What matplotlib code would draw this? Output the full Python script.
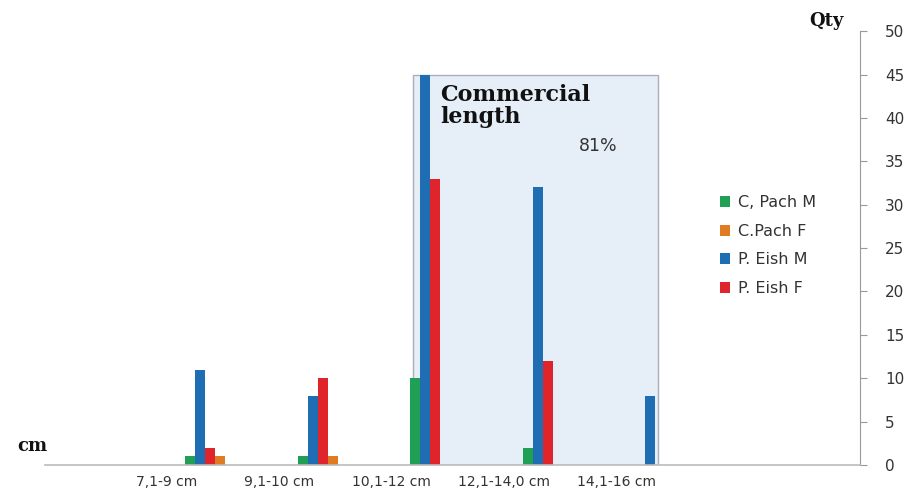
import matplotlib
matplotlib.use("Agg")
import matplotlib.pyplot as plt
from matplotlib.patches import Rectangle
import numpy as np

categories = ["7,1-9 cm", "9,1-10 cm", "10,1-12 cm", "12,1-14,0 cm", "14,1-16 cm"]
c_pach_m = [1, 1, 10, 2, 0]
c_pach_f = [1, 1, 0, 0, 0]
p_eish_m = [11, 8, 45, 32, 8]
p_eish_f = [2, 10, 33, 12, 0]
y_ticks = list(range(0, 51, 5))

green = "#1fa055"
orange = "#e07b22"
blue = "#1f6db3"
red = "#e0242b"

fig = plt.figure(figsize=(9.13, 4.93), dpi=100)
ax = fig.add_axes([0.049, 0.0568, 0.893, 0.880])

x = np.arange(len(categories))
w = 0.089
shift = 0.34

# commercial-length zone behind the bars
box_left = x[2] + shift - 2 * w + 0.025
box_right = x[4] + shift + 0.25 * w
ax.add_patch(Rectangle((box_left, 0), box_right - box_left, 45,
                       facecolor="#e6eef7", edgecolor="#a9b0b8", lw=1.0, zorder=0))

# draw series in on-screen order: green, blue, red, orange
series = [(c_pach_m, green, -1.5, "C, Pach M"),
          (p_eish_m, blue, -0.5, "P. Eish M"),
          (p_eish_f, red, 0.5, "P. Eish F"),
          (c_pach_f, orange, 1.5, "C.Pach F")]
handles = {}
for vals, col, off, lab in series:
    h = ax.bar(x + shift + off * w, vals, width=w, color=col, zorder=2, label=lab)
    handles[lab] = h

ax.set_xlim(-1.084, 6.16)
ax.set_ylim(0, 50)

ax.yaxis.tick_right()
ax.set_yticks(y_ticks)
ax.tick_params(axis="y", direction="out", length=5, color="#999999",
               labelsize=11, labelcolor="#333333", pad=13)
ax.set_xticks(x)
ax.set_xticklabels(categories)
ax.tick_params(axis="x", length=0, labelsize=10, labelcolor="#333333", pad=7)

for s in ["top", "left"]:
    ax.spines[s].set_visible(False)
ax.spines["right"].set_color("#999999")
ax.spines["bottom"].set_color("#bbbbbb")
ax.spines["bottom"].set_linewidth(1.2)

ax.text(2.43, 43.9, "Commercial\nlength", fontsize=16, fontweight="bold",
        family="DejaVu Serif", color="#111111", va="top", ha="left",
        linespacing=1.0, zorder=3)
ax.text(3.83, 36.8, "81%", fontsize=12.5, color="#333333", ha="center", va="center", zorder=3)

fig.text(0.905, 0.958, "Qty", fontsize=13, fontweight="bold", family="DejaVu Serif",
         color="#111111", ha="center", va="center")
fig.text(0.035, 0.096, "cm", fontsize=13, fontweight="bold", family="DejaVu Serif",
         color="#111111", ha="center", va="center")

order = ["C, Pach M", "C.Pach F", "P. Eish M", "P. Eish F"]
leg = ax.legend([handles[k] for k in order], order, loc="upper left",
                bbox_to_anchor=(0.81, 0.655), frameon=False, fontsize=11.5,
                handlelength=0.65, handleheight=0.65, handletextpad=0.5,
                labelspacing=0.85)
for t in leg.get_texts():
    t.set_color("#333333")

fig.savefig("out.png", dpi=100)
